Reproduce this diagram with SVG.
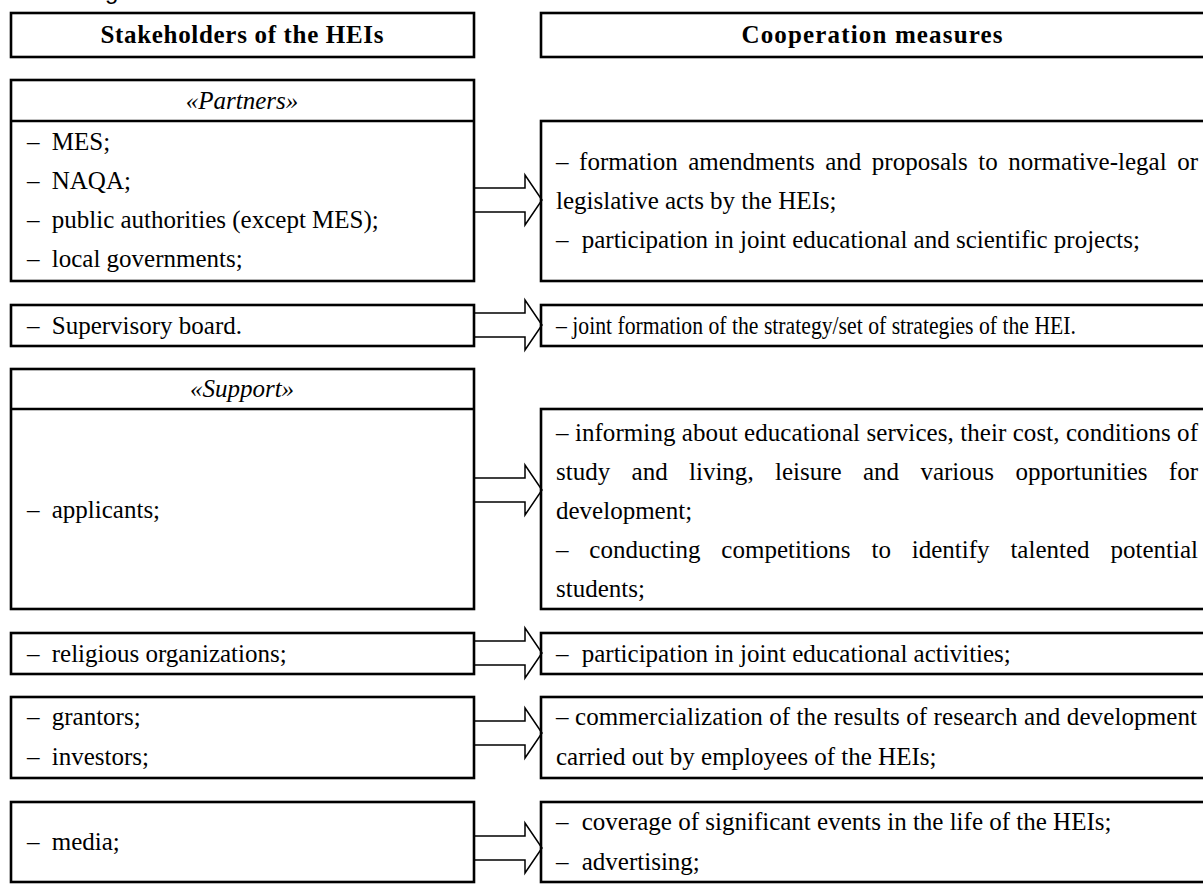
<svg xmlns="http://www.w3.org/2000/svg" width="1203" height="896" viewBox="0 0 1203 896">
  <style>
    .box { fill: #fff; stroke: #000; stroke-width: 2.6; }
    .sep { stroke: #000; stroke-width: 2.6; }
    .t { font-family: "Liberation Serif", "Times New Roman", serif; font-size: 25px; fill: #000; }
    .h { font-family: "Liberation Serif", "Times New Roman", serif; font-size: 25px; font-weight: bold; fill: #000; text-anchor: middle; }
    .i { font-style: italic; text-anchor: middle; }
    .arrow { fill: none; stroke: #000; stroke-width: 1.5; stroke-linejoin: miter; }
    .cap { font-family: "Liberation Sans", Arial, sans-serif; font-size: 24px; fill: #000; }
  </style>
  <defs>
    <!-- hollow block arrow, centred on y = 0 -->
    <path id="blockArrow" d="M474,-12 H525 V-25 L542,0 L525,25 V12 H474"/>
  </defs>

  <rect width="1203" height="896" fill="#fff"/>

  <!-- caption line above the table (only its descender is inside the frame) -->
  <text class="cap" x="105" y="-1">g</text>

  <!-- column headers -->
  <g id="header-stakeholders">
    <rect class="box" x="11" y="13" width="463" height="44"/>
    <text class="h" x="242" y="43" textLength="283" lengthAdjust="spacing">Stakeholders of the HEIs</text>
  </g>
  <g id="header-measures">
    <rect class="box" x="541" y="13" width="670" height="44"/>
    <text class="h" x="872" y="43" textLength="261" lengthAdjust="spacing">Cooperation measures</text>
  </g>

  <!-- «Partners» -->
  <g id="partners">
    <rect class="box" x="11" y="80" width="463" height="201"/>
    <line class="sep" x1="11" y1="121" x2="474" y2="121"/>
    <text class="t i" x="242" y="109">«Partners»</text>
    <text class="t" x="27" y="150">– <tspan dx="6">MES;</tspan></text>
    <text class="t" x="27" y="189">– <tspan dx="6">NAQA;</tspan></text>
    <text class="t" x="27" y="228">– <tspan dx="6">public authorities (except MES);</tspan></text>
    <text class="t" x="27" y="267">– <tspan dx="6">local governments;</tspan></text>
  </g>
  <g id="measures-partners">
    <rect class="box" x="541" y="121" width="670" height="160"/>
    <text class="t" x="556" y="170" style="word-spacing:4.3px" textLength="642" lengthAdjust="spacing">– formation amendments and proposals to normative-legal or</text>
    <text class="t" x="556" y="209">legislative acts by the HEIs;</text>
    <text class="t" x="556" y="248">– <tspan dx="7">participation in joint educational and scientific projects;</tspan></text>
  </g>

  <!-- Supervisory board -->
  <g id="supervisory">
    <rect class="box" x="11" y="305" width="463" height="41"/>
    <text class="t" x="27" y="334">– <tspan dx="6">Supervisory board.</tspan></text>
  </g>
  <g id="measures-supervisory">
    <rect class="box" x="541" y="305" width="670" height="41"/>
    <text class="t" x="556" y="334" textLength="520" lengthAdjust="spacingAndGlyphs">– joint formation of the strategy/set of strategies of the HEI.</text>
  </g>

  <!-- «Support» -->
  <g id="support">
    <rect class="box" x="11" y="369" width="463" height="240"/>
    <line class="sep" x1="11" y1="409" x2="474" y2="409"/>
    <text class="t i" x="242" y="397">«Support»</text>
    <text class="t" x="27" y="518">– <tspan dx="6">applicants;</tspan></text>
  </g>
  <g id="measures-support">
    <rect class="box" x="541" y="409" width="670" height="200"/>
    <text class="t" x="556" y="441" textLength="642" lengthAdjust="spacing">– informing about educational services, their cost, conditions of</text>
    <text class="t" x="556" y="480" style="word-spacing:15px" textLength="642" lengthAdjust="spacing">study and living, leisure and various opportunities for</text>
    <text class="t" x="556" y="519">development;</text>
    <text class="t" x="556" y="558" style="word-spacing:14.6px" textLength="642" lengthAdjust="spacing">– conducting competitions to identify talented potential</text>
    <text class="t" x="556" y="597">students;</text>
  </g>

  <!-- religious organizations -->
  <g id="religious">
    <rect class="box" x="11" y="633" width="463" height="41"/>
    <text class="t" x="27" y="662">– <tspan dx="6">religious organizations;</tspan></text>
  </g>
  <g id="measures-religious">
    <rect class="box" x="541" y="633" width="670" height="41"/>
    <text class="t" x="556" y="662">– <tspan dx="7">participation in joint educational activities;</tspan></text>
  </g>

  <!-- grantors / investors -->
  <g id="investors">
    <rect class="box" x="11" y="697" width="463" height="81"/>
    <text class="t" x="27" y="725">– <tspan dx="6">grantors;</tspan></text>
    <text class="t" x="27" y="765">– <tspan dx="6">investors;</tspan></text>
  </g>
  <g id="measures-investors">
    <rect class="box" x="541" y="697" width="670" height="81"/>
    <text class="t" x="556" y="725" textLength="641" lengthAdjust="spacing">– commercialization of the results of research and development</text>
    <text class="t" x="556" y="765">carried out by employees of the HEIs;</text>
  </g>

  <!-- media -->
  <g id="media">
    <rect class="box" x="11" y="802" width="463" height="80"/>
    <text class="t" x="27" y="850">– <tspan dx="6">media;</tspan></text>
  </g>
  <g id="measures-media">
    <rect class="box" x="541" y="802" width="670" height="80"/>
    <text class="t" x="556" y="830">– <tspan dx="7">coverage of significant events in the life of the HEIs;</tspan></text>
    <text class="t" x="556" y="870">– <tspan dx="7">advertising;</tspan></text>
  </g>

  <!-- connectors: hollow block arrows from each stakeholder group to its measures -->
  <g id="connectors">
    <use href="#blockArrow" class="arrow" y="200"/>
    <use href="#blockArrow" class="arrow" y="325"/>
    <use href="#blockArrow" class="arrow" y="490"/>
    <use href="#blockArrow" class="arrow" y="653"/>
    <use href="#blockArrow" class="arrow" y="733"/>
    <use href="#blockArrow" class="arrow" y="848"/>
  </g>
</svg>
